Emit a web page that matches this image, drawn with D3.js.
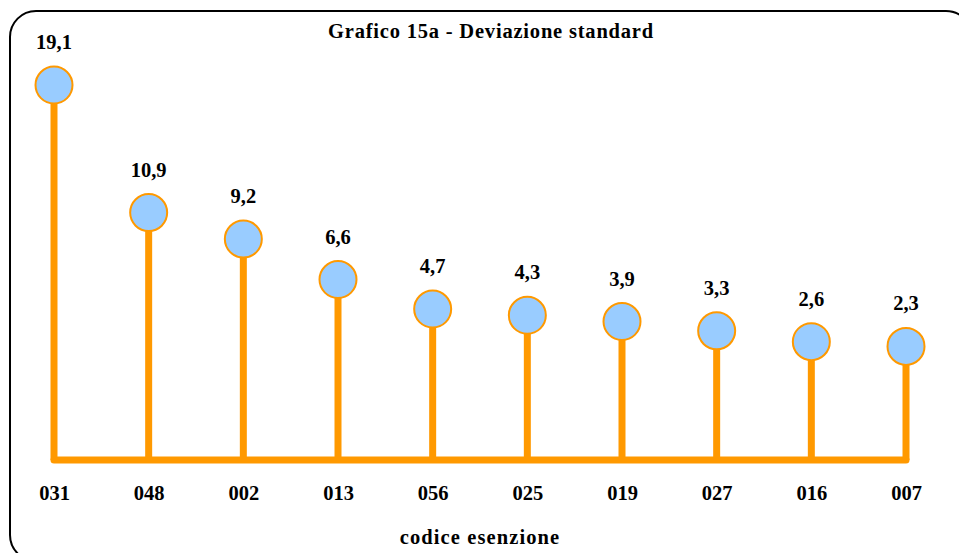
<!DOCTYPE html>
<html>
<head>
<meta charset="utf-8">
<script src="https://cdn.jsdelivr.net/npm/d3@7"></script>
<style>
  body { margin: 0; background: #fff; }
</style>
</head>
<body>
<div id="chart"></div>
<script>
// codici esenzione e deviazione standard
var codes = ["031", "048", "002", "013", "056", "025", "019", "027", "016", "007"];
var values = [19.1, 10.9, 9.2, 6.6, 4.7, 4.3, 3.9, 3.3, 2.6, 2.3];
var yDomain = [-5, 20];

var width = 959, height = 553;
var orange = "#ff9900";
var font = "'Liberation Serif', 'Times New Roman', serif";

var svg = d3.select("#chart").append("svg")
  .attr("width", width)
  .attr("height", height);

// cornice arrotondata
svg.append("rect")
  .attr("x", 10).attr("y", 11)
  .attr("width", 962).attr("height", 550)
  .attr("rx", 26).attr("ry", 26)
  .attr("fill", "none")
  .attr("stroke", "#000")
  .attr("stroke-width", 2);

var x = d3.scalePoint()
  .domain(codes)
  .range([54, 906]);

var y = d3.scaleLinear()
  .domain(yDomain)
  .range([460, 71]);

var data = codes.map((c, i) => ({code: c, value: values[i]}));

// asse x (solo etichette)
var xAxis = d3.axisBottom(x).tickSize(0).tickPadding(25);
var gx = svg.append("g")
  .attr("transform", `translate(0, ${y(yDomain[0])})`)
  .call(xAxis);
gx.select(".domain").remove();
gx.selectAll("text")
  .style("font-family", font)
  .style("font-weight", "bold")
  .style("font-size", "20.5px")
  .attr("fill", "#000");

// linea base
svg.append("line")
  .attr("x1", x(codes[0])).attr("x2", x(codes[codes.length - 1]))
  .attr("y1", y(yDomain[0])).attr("y2", y(yDomain[0]))
  .attr("stroke", orange)
  .attr("stroke-width", 7)
  .attr("stroke-linecap", "round");

// steli
svg.append("g")
  .selectAll("line")
  .data(data).enter()
  .append("line")
  .attr("x1", d => x(d.code)).attr("x2", d => x(d.code))
  .attr("y1", y(yDomain[0])).attr("y2", d => y(d.value))
  .attr("stroke", orange)
  .attr("stroke-width", 7);

// cerchi
svg.append("g")
  .selectAll("circle")
  .data(data).enter()
  .append("circle")
  .attr("cx", d => x(d.code))
  .attr("cy", d => y(d.value))
  .attr("r", 18.5)
  .attr("fill", "#99ccff")
  .attr("stroke", orange)
  .attr("stroke-width", 2);

function txt(sel) {
  return sel.style("font-family", font)
    .style("font-weight", "bold")
    .style("font-size", "20.5px")
    .attr("fill", "#000")
    .attr("text-anchor", "middle");
}

// etichette valori
svg.append("g")
  .selectAll("text")
  .data(data).enter()
  .append("text")
  .attr("x", d => x(d.code))
  .attr("y", d => y(d.value) - 36)
  .call(txt)
  .text(d => d.value.toFixed(1).replace(".", ","));

// titolo
svg.append("text")
  .attr("x", 491).attr("y", 38)
  .call(txt)
  .style("letter-spacing", "0.8px")
  .text("Grafico 15a - Deviazione standard");

// titolo asse
svg.append("text")
  .attr("x", 480).attr("y", 544)
  .call(txt)
  .style("letter-spacing", "1.1px")
  .text("codice esenzione");
</script>
</body>
</html>
